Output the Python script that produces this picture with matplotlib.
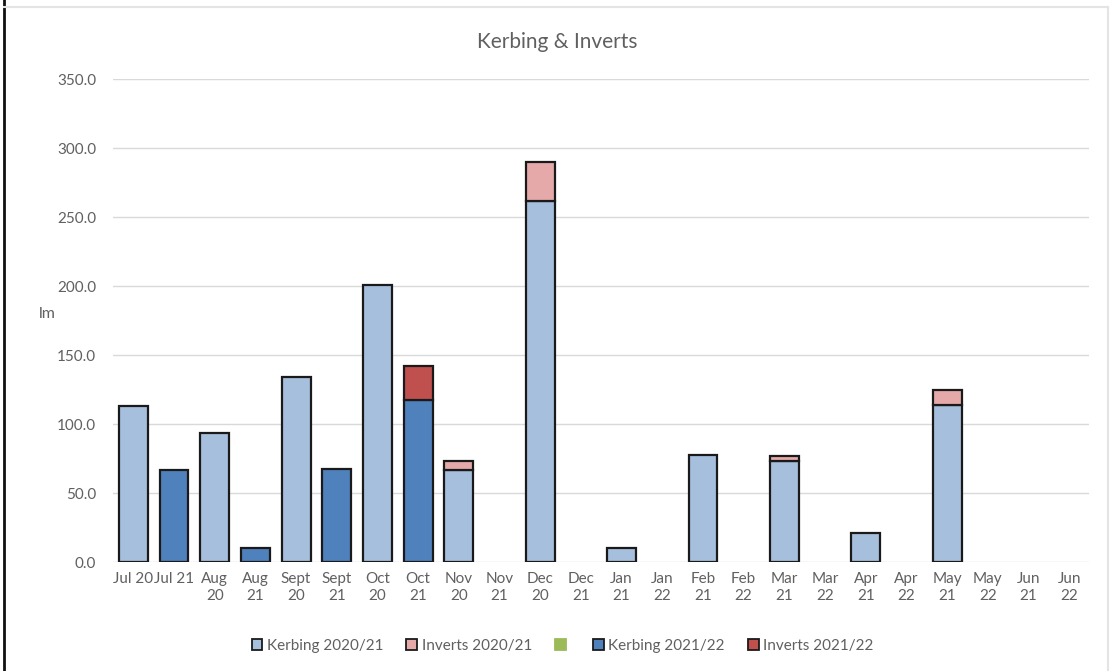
import matplotlib
matplotlib.use('Agg')
import matplotlib.pyplot as plt
from matplotlib.patches import Rectangle
from matplotlib.lines import Line2D
import numpy as np

plt.rcParams['font.family'] = ['Lato', 'DejaVu Sans']

categories = ['Jul 20', 'Jul 21', 'Aug\n20', 'Aug\n21', 'Sept\n20', 'Sept\n21',
              'Oct\n20', 'Oct\n21', 'Nov\n20', 'Nov\n21', 'Dec\n20', 'Dec\n21',
              'Jan\n21', 'Jan\n22', 'Feb\n21', 'Feb\n22', 'Mar\n21', 'Mar\n22',
              'Apr\n21', 'Apr\n22', 'May\n21', 'May\n22', 'Jun\n21', 'Jun\n22']

kerbing_2021 = [113, 0, 93.5, 0, 134, 0, 201, 0, 67, 0, 262, 0,
                10.5, 0, 77.5, 0, 73, 0, 21, 0, 113.5, 0, 0, 0]
inverts_2021 = [0, 0, 0, 0, 0, 0, 0, 0, 6, 0, 28, 0,
                0, 0, 0, 0, 3.5, 0, 0, 0, 11.5, 0, 0, 0]
kerbing_2122 = [0, 67, 0, 10, 0, 67.5, 0, 117.5, 0, 0, 0, 0,
                0, 0, 0, 0, 0, 0, 0, 0, 0, 0, 0, 0]
inverts_2122 = [0, 0, 0, 0, 0, 0, 0, 24.5, 0, 0, 0, 0,
                0, 0, 0, 0, 0, 0, 0, 0, 0, 0, 0, 0]

C_K21 = '#a6bfdd'
C_I21 = '#e6a9aa'
C_GREEN = '#9bbb59'
C_K22 = '#4f81bd'
C_I22 = '#c0504d'
TEXT = '#606060'

fig = plt.figure(figsize=(11.14, 6.71), dpi=100)
ax = fig.add_axes([0.1014, 0.1624, 0.8766, 0.7196])

x = np.arange(len(categories))
w = 0.71
k21 = np.array(kerbing_2021)
i21 = np.array(inverts_2021)
k22 = np.array(kerbing_2122)
i22 = np.array(inverts_2122)

def draw(vals, bottom, color):
    m = vals > 0
    ax.bar(x[m], vals[m], w, bottom=bottom[m], color=color,
           edgecolor='#1a1a1a', linewidth=1.6, zorder=3)

zero = np.zeros(len(categories))
draw(k21, zero, C_K21)
draw(i21, k21, C_I21)
draw(k22, zero, C_K22)
draw(i22, k22, C_I22)

ax.set_xlim(-0.5, len(categories) - 0.5)
ax.set_ylim(0, 350)
ax.set_yticks(np.arange(0, 351, 50))
ax.set_yticklabels([f'{v:.1f}' for v in np.arange(0, 351, 50)])
ax.set_xticks(x)
ax.set_xticklabels(categories, linespacing=1.3)
ax.tick_params(axis='both', length=0, labelsize=11, colors=TEXT)
ax.tick_params(axis='x', pad=7)
ax.tick_params(axis='y', pad=12)
ax.grid(axis='y', color='#d9d9d9', linewidth=1.0, zorder=0)
for s in ax.spines.values():
    s.set_visible(False)

ax.set_ylabel('lm', rotation=0, fontsize=11.5, color=TEXT)
ax.yaxis.set_label_coords(-0.067, 0.5)

fig.text(0.5, 0.938, 'Kerbing & Inverts', ha='center', va='center',
         fontsize=15, color=TEXT)

# legend: square swatches, the third entry has no name
handles = [Rectangle((0, 0), 1, 1, facecolor=c, edgecolor=e, linewidth=1.3)
           for c, e in [(C_K21, '#1a1a1a'), (C_I21, '#1a1a1a'), (C_GREEN, C_GREEN),
                        (C_K22, '#1a1a1a'), (C_I22, '#1a1a1a')]]
labels = ['Kerbing 2020/21', 'Inverts 2020/21', '', 'Kerbing 2021/22', 'Inverts 2021/22']
leg = fig.legend(handles, labels, loc='center', bbox_to_anchor=(0.505, 0.038),
                 ncol=5, frameon=False, fontsize=11, handlelength=0.7,
                 handleheight=0.7, handletextpad=0.3, columnspacing=1.5)
for t in leg.get_texts():
    t.set_color(TEXT)

# chart frame: dark left edge, faint top and right edges
W, H = 1114, 671
fig.lines.append(Line2D([4 / W, 4 / W], [0, 1], transform=fig.transFigure,
                        color='#111111', linewidth=2.0))
fig.lines.append(Line2D([4 / W, 1108 / W], [1 - 7 / H, 1 - 7 / H], transform=fig.transFigure,
                        color='#e4e4e4', linewidth=1.5))
fig.lines.append(Line2D([1108 / W, 1108 / W], [0, 1 - 7 / H], transform=fig.transFigure,
                        color='#e4e4e4', linewidth=1.5))

fig.savefig('out.png', dpi=100)
